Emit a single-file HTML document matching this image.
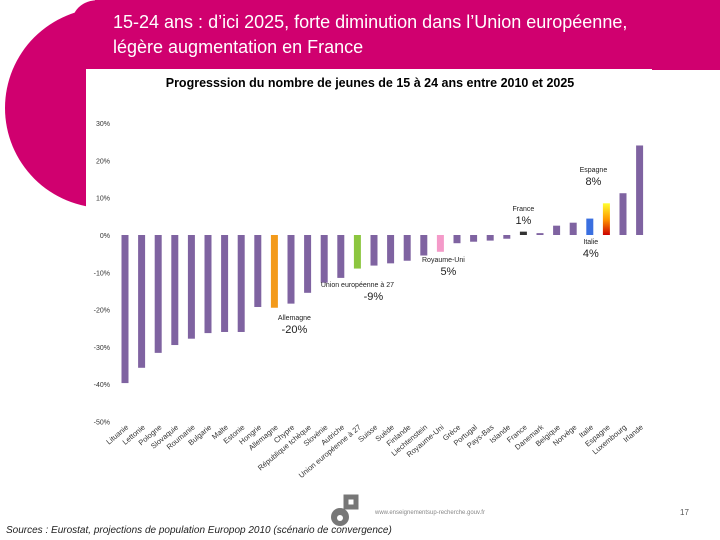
<!DOCTYPE html>
<html><head><meta charset="utf-8"><style>
body{margin:0;width:720px;height:540px;overflow:hidden;background:#fff;font-family:"Liberation Sans",sans-serif;position:relative}
</style></head><body>
<svg width="720" height="540" style="position:absolute;left:0;top:0">
<circle cx="105" cy="108" r="100" fill="#d0006f"/>
<path d="M70 30 Q72 0 100 0 L110 0 L110 40 Z" fill="#d0006f"/>
<rect x="95" y="0" width="625" height="70" fill="#d0006f"/>
<text x="113" y="28" fill="#fff" font-size="18">15-24 ans : d’ici 2025, forte diminution dans l’Union européenne,</text>
<text x="113" y="53" fill="#fff" font-size="18">légère augmentation en France</text>
<rect x="86" y="69" width="566" height="440" fill="#fff"/>
<text x="370" y="87" text-anchor="middle" font-size="12.5" font-weight="bold" fill="#000">Progresssion du nombre de jeunes de 15 à 24 ans entre 2010 et 2025</text>
<g id="chart"></g>
<text x="680" y="515" font-size="8" fill="#555">17</text>
<text x="375" y="514" font-size="6" fill="#888">www.enseignementsup-recherche.gouv.fr</text>
<rect x="346" y="497" width="10" height="10" fill="none" stroke="#777" stroke-width="5"/>
<circle cx="340" cy="517" r="9" fill="#777"/>
<circle cx="340" cy="518" r="3" fill="#fff"/>
<text x="6" y="533" font-size="10" font-style="italic" fill="#222">Sources : Eurostat, projections de population Europop 2010 (scénario de convergence)</text>
</svg>
<script>
const categories=["Lituanie","Lettonie","Pologne","Slovaquie","Roumanie","Bulgarie","Malte","Estonie","Hongrie","Allemagne","Chypre","République tchèque","Slovénie","Autriche","Union européenne à 27","Suisse","Suède","Finlande","Liechtenstein","Royaume-Uni","Grèce","Portugal","Pays-Bas","Islande","France","Danemark","Belgique","Norvège","Italie","Espagne","Luxembourg","Irlande"];
const values=[-39.7,-35.6,-31.6,-29.5,-27.8,-26.3,-26,-26,-19.3,-19.5,-18.4,-15.5,-12.8,-11.5,-9,-8.2,-7.6,-6.9,-5.5,-4.5,-2.2,-1.8,-1.5,-1,0.9,0.5,2.5,3.3,4.4,8.5,11.2,24];
const ticks=[30,20,10,0,-10,-20,-30,-40,-50];
const tickLabels=["30%","20%","10%","0%","-10%","-20%","-30%","-40%","-50%"];
const colors={"Allemagne":"#f39a1a","Union européenne à 27":"#8cc63f","Royaume-Uni":"#f49ac9","France":"#333333","Italie":"#3a6fe0"};
const NS="http://www.w3.org/2000/svg";
const g=document.getElementById("chart");
const y=v=>235-v*3.73;
const x=i=>125+i*16.6;
function mk(t,a){const e=document.createElementNS(NS,t);for(const k in a)e.setAttribute(k,a[k]);g.appendChild(e);return e;}
const defs=mk("defs",{});
defs.innerHTML='<linearGradient id="esp" x1="0" y1="0" x2="0" y2="1"><stop offset="0" stop-color="#ffff30"/><stop offset="0.5" stop-color="#ff9900"/><stop offset="1" stop-color="#cc0000"/></linearGradient>';
ticks.forEach((t,i)=>{const e=mk("text",{x:110,y:y(t)+3,"font-size":7,"text-anchor":"end",fill:"#333"});e.textContent=tickLabels[i];

});
categories.forEach((c,i)=>{const v=values[i];
const fill=c==="Espagne"?"url(#esp)":(colors[c]||"#7f63a1");
const r=mk("rect",{x:x(i)-3.5,y:Math.min(y(v),y(0)),width:7,height:Math.max(1.5,Math.abs(y(v)-y(0))),fill:fill});


const t=mk("text",{x:0,y:0,"font-size":7.5,"text-anchor":"end",fill:"#333",transform:`translate(${x(i)+4},${428}) rotate(-40)`});
t.textContent=c;

});
const ann=[["Allemagne",320,-20,"Allemagne","-20%",20],["Union européenne à 27",287,-9,"Union européenne à 27","-9%",0],["Royaume-Uni",262,-5,"Royaume-Uni","5%",3],["France",211,1,"France","1%",0],["Italie",244,4,"Italie","4%",1],["Espagne",172,8,"Espagne","8%",-13]];
ann.forEach(a=>{const i=categories.indexOf(a[0]);const cx=x(i)+a[5];
const l=mk("text",{x:cx,y:a[1],"font-size":7,"text-anchor":"middle",fill:"#222"});l.textContent=a[3];


const p=mk("text",{x:cx+(a[0]==="Union européenne à 27"?16:a[0]==="Royaume-Uni"?5:0),y:a[1]+13,"font-size":11,"text-anchor":"middle",fill:"#222"});p.textContent=a[4];

});
</script>
</body></html>
